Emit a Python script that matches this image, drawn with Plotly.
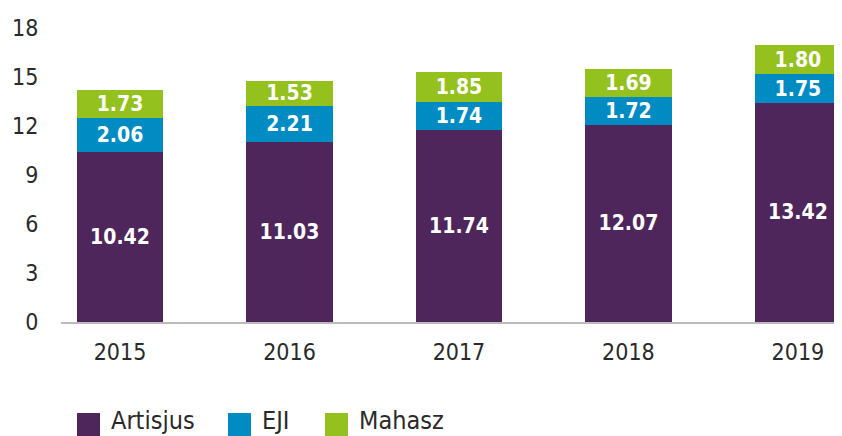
import plotly.graph_objects as go

years = ["2015", "2016", "2017", "2018", "2019"]
artisjus = [10.42, 11.03, 11.74, 12.07, 13.42]
eji = [2.06, 2.21, 1.74, 1.72, 1.75]
mahasz = [1.73, 1.53, 1.85, 1.69, 1.80]

series = [
    ("Artisjus", artisjus, "#4e265b"),
    ("EJI", eji, "#008cc3"),
    ("Mahasz", mahasz, "#95c11f"),
]

font_family = "DejaVu Sans Condensed, DejaVu Sans, sans-serif"

# the page body has an 8px default margin, so the figure is a bit smaller
OFF = 8
W, H = 842 - OFF, 436 - OFF
ML, MT = 61 - OFF, 28 - OFF
PH = 294
MB = H - MT - PH
PW = W - ML

fig = go.Figure()

for name, values, color in series:
    fig.add_trace(go.Bar(
        x=years, y=values, name=name,
        marker=dict(color=color, line=dict(width=0)),
        texttemplate="%{y:.2f}",
        textposition="inside",
        insidetextanchor="middle",
        textangle=0,
        constraintext="none",
        textfont=dict(color="white", size=21, family=font_family, weight="bold"),
        showlegend=False,
        hoverinfo="skip",
    ))


def px_x(p):
    return (p - OFF - ML) / PW


def px_y(p):
    return (MT + PH - (p - OFF)) / PH


# legend drawn by hand so the swatches can be as big as in the original
legend_x = [77, 228, 325]
for (name, values, color), lx in zip(series, legend_x):
    fig.add_shape(
        type="rect", xref="paper", yref="paper",
        x0=px_x(lx), x1=px_x(lx + 23), y0=px_y(436), y1=px_y(413),
        fillcolor=color, line=dict(width=0),
    )
    fig.add_annotation(
        text=name, xref="paper", yref="paper",
        x=px_x(lx + 32), y=px_y(420), xanchor="left", yanchor="middle",
        showarrow=False, font=dict(size=25, color="#2a2a2a"),
    )

fig.update_layout(
    barmode="stack",
    bargap=0.49,
    width=W, height=H,
    margin=dict(l=ML, r=0, t=MT, b=MB, pad=0),
    paper_bgcolor="white",
    plot_bgcolor="white",
    font=dict(family=font_family, size=23, color="#2a2a2a"),
    showlegend=False,
    xaxis=dict(
        type="category",
        range=[-0.348, 4.26],
        showgrid=False, automargin=False,
        showline=True, linecolor="#bbbbbb", linewidth=2,
        ticks="outside", ticklen=8, tickcolor="rgba(0,0,0,0)",
        tickfont=dict(size=23),
    ),
    yaxis=dict(
        range=[0, 18],
        tickvals=[0, 3, 6, 9, 12, 15, 18],
        showgrid=False, zeroline=False, automargin=False,
        ticks="outside", ticklen=17, tickcolor="rgba(0,0,0,0)",
        tickfont=dict(size=23),
    ),
)

fig.write_html("out.html")
